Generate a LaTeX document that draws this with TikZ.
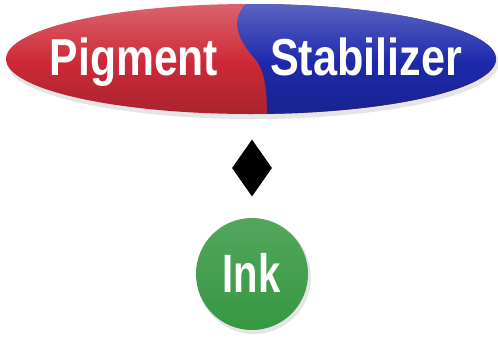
\documentclass[tikz,border=0pt]{standalone}
\usepackage{fontspec}
\setmainfont{Liberation Sans}
\usetikzlibrary{shapes.geometric,fadings}
\definecolor{pred}{RGB}{206,42,56}
\definecolor{pblue}{RGB}{30,42,172}
\definecolor{igreen}{RGB}{54,152,66}
\tikzset{
  label text/.style={text=white, font=\bfseries\fontsize{52}{52}\selectfont, inner sep=0pt, anchor=base},
  pill/.style={ellipse, minimum width=490pt, minimum height=110pt, inner sep=0pt},
  gem/.style={diamond, fill=black, minimum width=40pt, minimum height=57pt, inner sep=0pt},
  ball/.style={circle, minimum size=112pt, inner sep=0pt, fill=igreen}
}
\begin{document}
\begin{tikzpicture}[x=1pt,y=-1pt]
\useasboundingbox (0,0) rectangle (498,338);
\fill[white] (0,0) rectangle (498,338);
% shadow of the pill
\fill[black!10] (253,63) ellipse [x radius=246, y radius=56];
\node[pill] (pill) at (251,59) {};
\begin{scope}
  \clip (251,59) ellipse [x radius=245, y radius=55];
  \fill[pred] (-5,-5) rectangle (505,125);
  \fill[pblue] (250,0) .. controls (226,20) and (240,42) .. (256,60)
     .. controls (268,76) and (266,100) .. (268,125) -- (505,125) -- (505,0) -- cycle;
  \fill[white, opacity=0.28, path fading=south] (-5,2) rectangle (505,62);
  \fill[black, opacity=0.18, path fading=north] (-5,60) rectangle (505,118);
\end{scope}
\node[label text] (pigment) at (134,75) {\scalebox{0.82}[1]{Pigment}};
\node[label text] (stab) at (366,75) {\scalebox{0.83}[1]{Stabilizer}};
% diamond
\node[gem] (dia) at (252,168) {};
% ink ball
\fill[black!10] (254,277) circle [radius=57];
\node[ball] (ink) at (252,274) {};
\fill[white, opacity=0.15, path fading=south] (252,274) circle [radius=56];
\node[label text, font=\bfseries\fontsize{54}{54}\selectfont] (inktext) at (251.5,292) {\scalebox{0.74}[1]{Ink}};
\end{tikzpicture}
\end{document}
